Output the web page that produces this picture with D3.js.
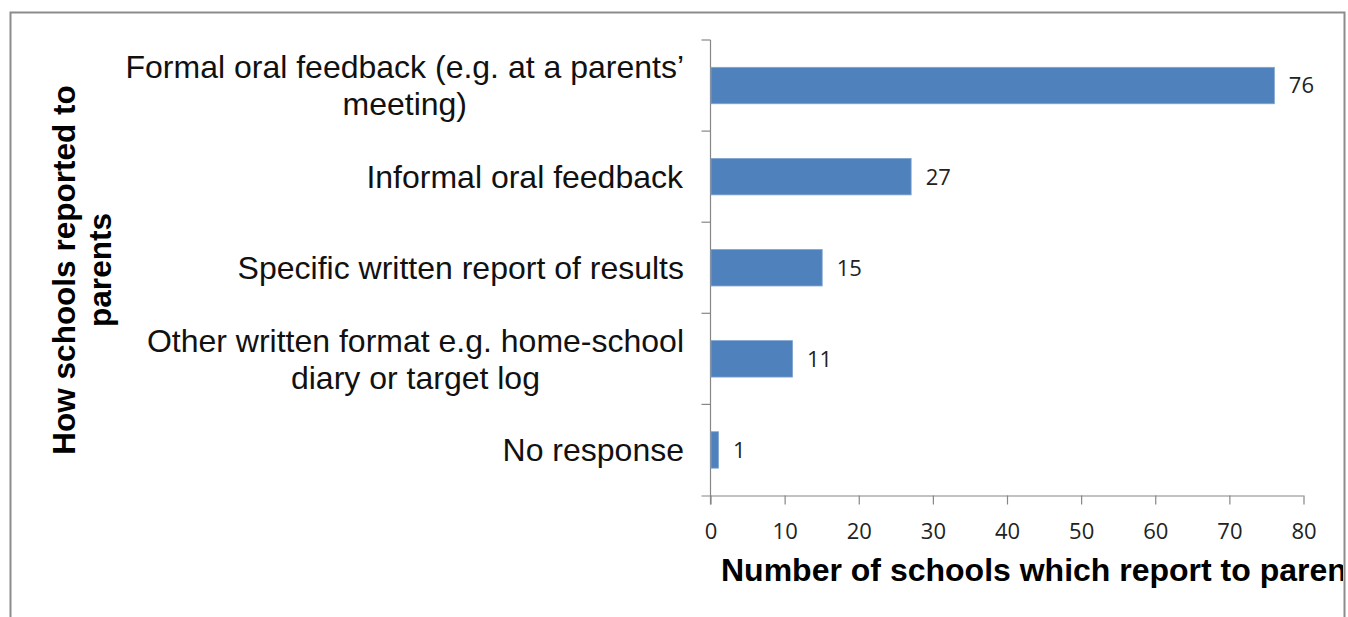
<!DOCTYPE html>
<html>
<head>
<meta charset="utf-8">
<script src="https://cdn.jsdelivr.net/npm/d3@7/dist/d3.min.js"></script>
<style>
  html, body { margin: 0; padding: 0; background: #fff; }
  svg { display: block; }
</style>
</head>
<body>
<svg id="chart" width="1348" height="617"></svg>
<script>
// How schools reported results to parents
const categories = [
  "Formal oral feedback (e.g. at a parents’ meeting)",
  "Informal oral feedback",
  "Specific written report of results",
  "Other written format e.g. home-school diary or target log",
  "No response"
];
const categoryLines = [
  ["Formal oral feedback (e.g. at a parents’", "meeting)"],
  ["Informal oral feedback"],
  ["Specific written report of results"],
  ["Other written format e.g. home-school", "diary or target log"],
  ["No response"]
];
const values = [76, 27, 15, 11, 1];
const xTicks = [0, 10, 20, 30, 40, 50, 60, 70, 80];
const xTitle = "Number of schools which report to parents";
const yTitleLines = ["How schools reported to", "parents"];

const svg = d3.select("#chart");
const W = 1348, H = 617;
const plot = { left: 710.5, right: 1303.5, top: 40, bottom: 495.5 };

// Clip everything to the outer frame
svg.append("defs").append("clipPath").attr("id", "frameClip")
  .append("rect").attr("x", 11).attr("y", 13).attr("width", 1332).attr("height", H);

// Outer frame (bottom edge lies beyond the view)
svg.append("path")
  .attr("d", `M10.5,${H + 5} V12.5 H1344.5 V${H + 5}`)
  .attr("fill", "none").attr("stroke", "#8c8c8c").attr("stroke-width", 2);

const g = svg.append("g").attr("clip-path", "url(#frameClip)");

const x = d3.scaleLinear().domain([0, 80]).range([plot.left, plot.right]);
const y = d3.scaleBand().domain(categories).range([plot.top, plot.bottom])
  .paddingInner(0.6).paddingOuter(0.3);

const axisColor = "#868686";
const numFont = "'Open Sans', sans-serif";
const textFont = "'Liberation Sans', Arial, sans-serif";

// X axis
const xAxis = g.append("g").attr("transform", `translate(0,${plot.bottom})`)
  .call(d3.axisBottom(x).tickValues(xTicks).tickSize(9).tickPadding(19).tickFormat(d3.format("d")));
xAxis.select(".domain").attr("stroke", axisColor).attr("stroke-width", 1.2)
  .attr("d", `M${plot.left - 9},0.5H${plot.right}`);
xAxis.selectAll(".tick line").attr("stroke", axisColor).attr("stroke-width", 1.2);
xAxis.selectAll(".tick text")
  .attr("font-family", numFont).attr("font-size", 22)
  .attr("fill", "#222");

// Y axis: boundaries between categories
const step = y.step();
const yEdges = d3.range(categories.length + 1).map(i => plot.top + i * step);
g.append("line").attr("x1", plot.left).attr("x2", plot.left)
  .attr("y1", plot.top).attr("y2", plot.bottom + 9)
  .attr("stroke", axisColor).attr("stroke-width", 1.2);
g.selectAll(".ytick").data(yEdges.slice(0, -1)).join("line")
  .attr("class", "ytick")
  .attr("x1", plot.left - 9).attr("x2", plot.left)
  .attr("y1", d => d).attr("y2", d => d)
  .attr("stroke", axisColor).attr("stroke-width", 1.2);

// Bars
g.selectAll(".bar").data(values).join("rect")
  .attr("class", "bar")
  .attr("x", x(0) + 0.5)
  .attr("y", (d, i) => y(categories[i]))
  .attr("width", d => x(d) - x(0))
  .attr("height", y.bandwidth())
  .attr("fill", "#4f81bd")
  .attr("stroke", "#7ea3cf").attr("stroke-width", 0.8);

// Value labels
g.selectAll(".val").data(values).join("text")
  .attr("class", "val")
  .attr("x", d => x(d) + 15)
  .attr("y", (d, i) => y(categories[i]) + y.bandwidth() / 2)
  .attr("dy", "0.36em")
  .attr("font-family", numFont).attr("font-size", 22)
  .attr("fill", "#222")
  .text(d => d);

// Category labels, centred lines, block right edge at the axis
const lineH = 37;
const labelRight = 684;
categoryLines.forEach((lines, i) => {
  const cy = y(categories[i]) + y.bandwidth() / 2;
  const t = g.append("text")
    .attr("class", "cat")
    .attr("text-anchor", "middle")
    .attr("font-family", textFont)
    .attr("font-size", 32).attr("fill", "#111");
  lines.forEach((ln, j) => {
    t.append("tspan")
      .attr("x", 400)
      .attr("y", cy + (j - (lines.length - 1) / 2) * lineH)
      .attr("dy", "0.35em")
      .text(ln);
  });
  const bb = t.node().getBBox();
  t.selectAll("tspan").attr("x", 400 + (labelRight - (bb.x + bb.width)));
});

// Y axis title
const yt = g.append("text")
  .attr("transform", "translate(82,270) rotate(-90)")
  .attr("text-anchor", "middle")
  .attr("font-family", textFont)
  .attr("font-weight", "bold").attr("font-size", 31.5).attr("fill", "#000");
yTitleLines.forEach((ln, j) => {
  yt.append("tspan").attr("x", 0).attr("y", (j - 0.5) * 36).attr("dy", "0.35em").text(ln);
});

// X axis title (runs past the frame's right edge and is cut there)
g.append("text")
  .attr("x", 721).attr("y", 581)
  .attr("font-family", textFont)
  .attr("font-weight", "bold").attr("font-size", 32).attr("fill", "#000")
  .text(xTitle);
</script>
</body>
</html>
